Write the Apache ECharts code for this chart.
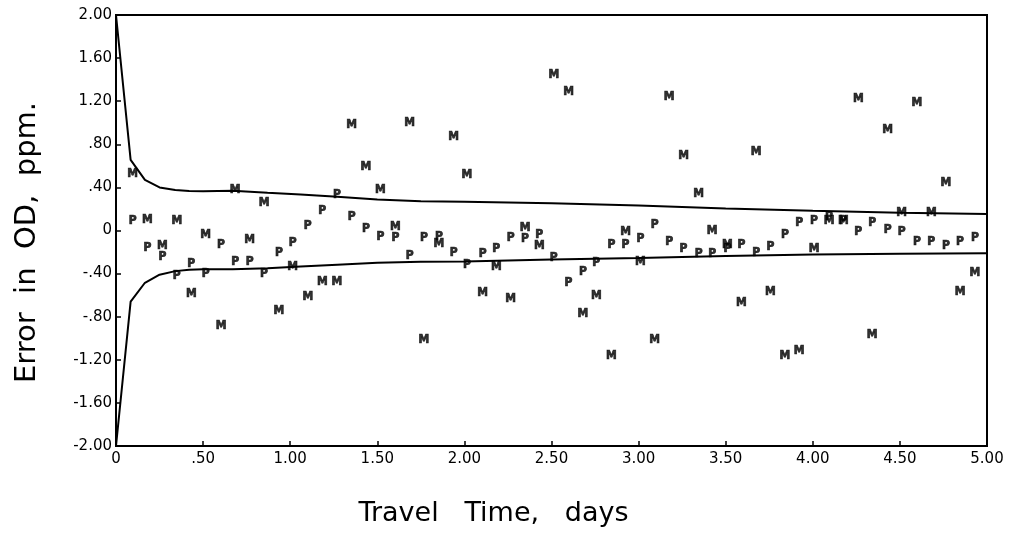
<!DOCTYPE html>
<html>
<head>
<meta charset="utf-8">
<script src="https://cdn.jsdelivr.net/npm/echarts@6/dist/echarts.min.js"></script>
<style>
    html, body { margin: 0; padding: 0; background: #fff; }
    #main { width: 1024px; height: 542px; }
</style>
</head>
<body>
<div id="main"></div>
<script type="text/javascript">
    // travel time of each sample (days), shared by the M and P marks
    var times = [0.096, 0.18, 0.266, 0.349, 0.432, 0.515, 0.603, 0.684, 0.767, 0.85,
        0.935, 1.014, 1.101, 1.184, 1.268, 1.353, 1.435, 1.518, 1.604, 1.686,
        1.768, 1.854, 1.938, 2.014, 2.105, 2.183, 2.266, 2.348, 2.43, 2.513,
        2.598, 2.68, 2.757, 2.844, 2.925, 3.01, 3.092, 3.175, 3.258, 3.345,
        3.422, 3.51, 3.59, 3.675, 3.757, 3.84, 3.922, 4.007, 4.093, 4.175,
        4.261, 4.341, 4.43, 4.51, 4.598, 4.68, 4.764, 4.845, 4.931];
    // error of the "M" marks (ppm)
    var mErr = [0.53, 0.10, -0.14, 0.088, -0.59, -0.042, -0.886, 0.38, -0.088, 0.26,
        -0.744, -0.336, -0.614, -0.475, -0.475, 0.98, 0.59, 0.376, 0.035, 1.0,
        -1.016, -0.12, 0.87, 0.515, -0.577, -0.336, -0.63, 0.026, -0.144, 1.44,
        1.29, -0.775, -0.61, -1.165, -0.01, -0.29, -1.016, 1.24, 0.69, 0.336,
        -0.005, -0.13, -0.676, 0.73, -0.568, -1.165, -1.118, -0.175, 0.09, 0.088,
        1.22, -0.97, 0.93, 0.16, 1.18, 0.165, 0.444, -0.574, -0.39];
    // error of the "P" marks (ppm)
    var pErr = [0.088, -0.16, -0.243, -0.42, -0.31, -0.40, -0.135, -0.29, -0.29, -0.40,
        -0.206, -0.113, 0.045, 0.18, 0.33, 0.128, 0.014, -0.057, -0.067, -0.237,
        -0.073, -0.06, -0.206, -0.32, -0.221, -0.172, -0.073, -0.082, -0.042, -0.258,
        -0.49, -0.382, -0.304, -0.135, -0.135, -0.082, 0.05, -0.104, -0.175, -0.218,
        -0.218, -0.17, -0.135, -0.212, -0.15, -0.042, 0.072, 0.09, 0.125, 0.088,
        -0.01, 0.072, 0.005, -0.01, -0.104, -0.104, -0.144, -0.104, -0.073];
    // envelope curves
    var bandDays = [0, 0.084, 0.166, 0.25, 0.34, 0.42, 0.5, 0.67, 0.87, 1.06,
        1.27, 1.5, 1.75, 2.0, 2.5, 3.0, 3.5, 4.0, 4.5, 5.0];
    var upperBand = [2.0, 0.655, 0.47, 0.40, 0.376, 0.366, 0.365, 0.37, 0.35, 0.335,
        0.314, 0.288, 0.272, 0.267, 0.252, 0.232, 0.205, 0.183, 0.165, 0.153];
    var lowerBand = [-2.0, -0.66, -0.485, -0.41, -0.377, -0.365, -0.36, -0.36, -0.35, -0.335,
        -0.318, -0.3, -0.29, -0.287, -0.27, -0.255, -0.236, -0.222, -0.216, -0.212];

    function pairs(xs, ys) {
        var out = [];
        for (var i = 0; i < xs.length; i++) out.push([xs[i], ys[i]]);
        return out;
    }
    // 0.8 -> ".80", -1.2 -> "-1.20", 0 -> "0"
    function plotLabel(v) {
        if (Math.abs(v) < 1e-9) return '0';
        var s = Math.abs(v).toFixed(2).replace(/^0/, '');
        return (v < 0 ? '-' : '') + s;
    }
    function markSeries(name, ys, ch) {
        return {
            name: name,
            type: 'scatter',
            data: pairs(times, ys),
            symbol: 'rect',
            symbolSize: 1,
            itemStyle: { color: 'rgba(0,0,0,0)' },
            label: {
                show: true,
                position: 'inside',
                formatter: ch,
                color: '#000',
                fontFamily: '"Liberation Sans Narrow", "DejaVu Sans Condensed", "DejaVu Sans"',
                fontWeight: 'bold',
                fontSize: 12,
                textBorderColor: '#000',
                textBorderWidth: 0.7
            },
            silent: true,
            z: 3
        };
    }
    function bandSeries(ys) {
        return {
            type: 'line',
            data: pairs(bandDays, ys),
            showSymbol: false,
            lineStyle: { color: '#000', width: 2 },
            silent: true,
            z: 2
        };
    }

    var myChart = echarts.init(document.getElementById('main'));
    myChart.setOption({
        animation: false,
        backgroundColor: '#fff',
        grid: {
            left: 116, right: 37, top: 15, bottom: 96,
            show: true, borderColor: '#000', borderWidth: 2
        },
        xAxis: {
            type: 'value',
            min: 0, max: 5, interval: 0.5,
            name: 'Travel   Time,   days',
            nameLocation: 'middle',
            nameGap: 54,
            nameTextStyle: {
                fontFamily: 'DejaVu Sans', fontSize: 27, color: '#000',
                padding: [0, 116, 0, 0]
            },
            axisLine: { onZero: false, lineStyle: { color: '#000', width: 2 } },
            axisTick: { inside: true, length: 5, lineStyle: { color: '#000', width: 1.5 } },
            axisLabel: {
                formatter: plotLabel, color: '#000', margin: 6,
                fontFamily: 'DejaVu Sans', fontSize: 15
            },
            splitLine: { show: false }
        },
        yAxis: {
            type: 'value',
            min: -2, max: 2, interval: 0.4,
            name: 'Error  in  OD,  ppm.',
            nameLocation: 'middle',
            nameRotate: 90,
            nameGap: 74,
            nameTextStyle: {
                fontFamily: 'DejaVu Sans', fontSize: 29, color: '#000',
                padding: [0, 24, 0, 0]
            },
            axisLine: { onZero: false, lineStyle: { color: '#000', width: 2 } },
            axisTick: { inside: true, length: 5, lineStyle: { color: '#000', width: 1.5 } },
            axisLabel: {
                formatter: plotLabel, color: '#000', margin: 4,
                fontFamily: 'DejaVu Sans', fontSize: 15
            },
            splitLine: { show: false }
        },
        series: [
            bandSeries(upperBand),
            bandSeries(lowerBand),
            markSeries('P', pErr, 'P'),
            markSeries('M', mErr, 'M')
        ]
    });
</script>
</body>
</html>
